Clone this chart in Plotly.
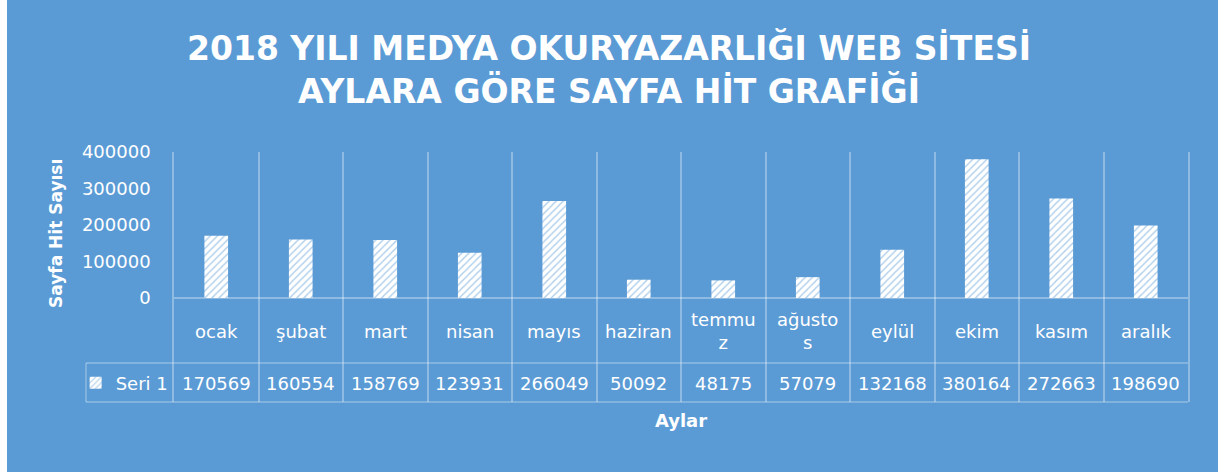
import plotly.graph_objects as go

# data
months = ["ocak", "şubat", "mart", "nisan", "mayıs", "haziran",
          "temmuz", "ağustos", "eylül", "ekim", "kasım", "aralık"]
month_labels = ["ocak", "şubat", "mart", "nisan", "mayıs", "haziran",
                "temmu<br>z", "ağusto<br>s", "eylül", "ekim", "kasım", "aralık"]
hits = [170569, 160554, 158769, 123931, 266049, 50092,
        48175, 57079, 132168, 380164, 272663, 198690]
series_name = "Seri 1"
y_ticks = [0, 100000, 200000, 300000, 400000]

BG = "#5B9BD5"
GRID = "rgba(255,255,255,0.32)"
FONT = "DejaVu Sans"

fig = go.Figure()
fig.add_trace(go.Bar(
    x=months, y=hits, name=series_name, width=0.28,
    marker=dict(color="white", line=dict(width=0),
                pattern=dict(shape="/", fgcolor=BG, size=5, solidity=0.28)),
    showlegend=True,
))

# data table rows (labels + values) under the plot
ROW_LABEL_Y = 0.284
ROW_VALUE_Y = 0.076
for m, lab, v in zip(months, month_labels, hits):
    fig.add_annotation(x=m, y=ROW_LABEL_Y, xref="x", yref="paper", text=lab,
                       xanchor="center", yanchor="middle", showarrow=False,
                       font=dict(family=FONT, size=18, color="white"))
    fig.add_annotation(x=m, y=ROW_VALUE_Y, xref="x", yref="paper", text=str(v),
                       xanchor="center", yanchor="middle", showarrow=False,
                       font=dict(family=FONT, size=18, color="white"))

# y axis title sits higher than the plot centre, as in the spreadsheet chart
fig.add_annotation(x=-0.1164, y=0.676, xref="paper", yref="paper", text="<b>Sayfa Hit Sayısı</b>",
                   textangle=-90, xanchor="center", yanchor="middle", showarrow=False,
                   font=dict(family=FONT, size=17, color="white"))

# table borders
left_cell = -0.0868
line = dict(color=GRID, width=1.5)
fig.add_shape(type="line", xref="paper", yref="paper", x0=left_cell, x1=1, y0=0.156, y1=0.156, line=line)
fig.add_shape(type="line", xref="paper", yref="paper", x0=left_cell, x1=1, y0=0, y1=0, line=line)
fig.add_shape(type="line", xref="paper", yref="paper", x0=left_cell, x1=left_cell, y0=0, y1=0.156, line=line)

# white strip on the left edge of the picture
fig.add_shape(type="rect", xref="paper", yref="paper", x0=-0.2, x1=-0.1647, y0=-0.4, y1=1.7,
              fillcolor="white", line=dict(width=0), layer="below")

fig.update_layout(
    width=1218, height=472,
    margin=dict(l=174, r=30, t=152, b=70),
    paper_bgcolor=BG, plot_bgcolor=BG,
    font=dict(family=FONT, size=18, color="white"),
    title=dict(
        text="2018 YILI MEDYA OKURYAZARLIĞI WEB SİTESİ<br>AYLARA GÖRE SAYFA HİT GRAFİĞİ",
        x=0.5, xref="container", xanchor="center",
        y=1 - 60 / 472, yref="container", yanchor="top",
        font=dict(family=FONT, size=33, color="white", weight="bold"),
    ),
    legend=dict(x=-0.097, y=ROW_VALUE_Y, xanchor="left", yanchor="middle",
                bgcolor="rgba(0,0,0,0)", font=dict(family=FONT, size=18, color="white")),
)
fig.update_xaxes(
    showticklabels=False, ticks="", tickson="boundaries",
    showgrid=True, gridcolor=GRID, gridwidth=1.5, showline=False,
    title=dict(text="Aylar", standoff=12, font=dict(family=FONT, size=18, weight="bold")),
)
fig.update_yaxes(
    range=[-285000, 400000], tickvals=y_ticks, ticktext=[str(t) for t in y_ticks],
    showgrid=False, zeroline=True, zerolinecolor=GRID, zerolinewidth=1.5,
    showline=True, mirror=True, linecolor=GRID, linewidth=1.5,
    ticks="outside", ticklen=18, tickcolor="rgba(0,0,0,0)",
    tickfont=dict(family=FONT, size=18, color="white"),
)

fig.write_html("out.html", config={"displayModeBar": False},
               post_script="document.body.style.margin='0';")
